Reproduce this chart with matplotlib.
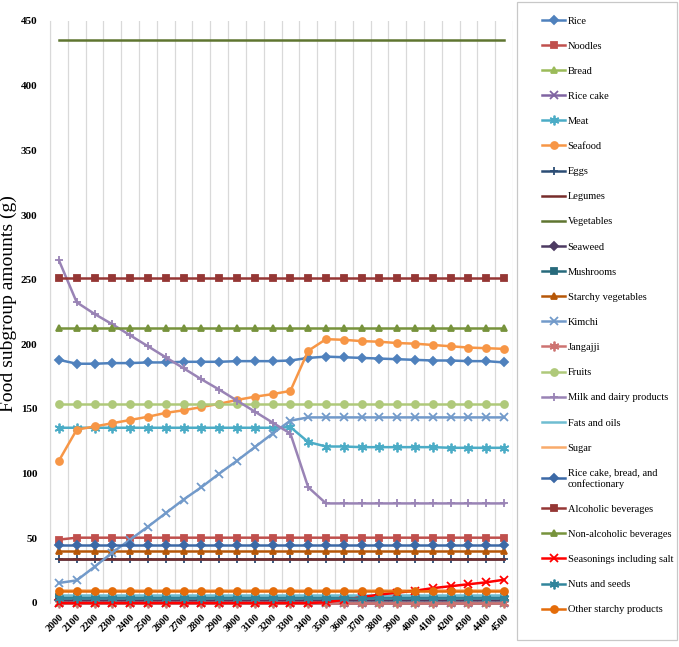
import matplotlib
matplotlib.use("Agg")
import matplotlib.pyplot as plt
from matplotlib.patches import Rectangle

plt.rcParams['font.family'] = ['Liberation Serif', 'DejaVu Serif']

# categories (x axis)
x_labels = ['2000', '2100', '2200', '2300', '2400', '2500', '2600', '2700', '2800',
            '2900', '3000', '3100', '3200', '3300', '3400', '3500', '3600', '3700',
            '3800', '3900', '4000', '4100', '4200', '4300', '4400', '4500']

rice = [188, 185, 185, 185.5, 185.5, 186, 186, 186.5, 186.5, 186.5, 187, 187, 187,
        187.5, 189.5, 190.5, 190, 189.5, 189, 188.5, 188, 187.5, 187.5, 187, 187, 186]
noodles = [49, 50.5, 50.5, 50.5, 50.5, 50.5, 50.5, 50.5, 50.5, 50.5, 50.5, 50.5, 50.5,
           50.5, 50.5, 50.5, 50.5, 50.5, 50.5, 50.5, 50.5, 50.5, 50.5, 50.5, 50.5, 50.5]
bread = [0, 0, 0, 0, 0, 0, 0, 0, 0, 0, 0, 0, 0, 0, 0, 0, 0, 0, 0, 0, 0, 0, 0, 0, 0, 0]
rice_cake = [0, 0, 0, 0, 0, 0, 0, 0, 0, 0, 0, 0, 0, 0, 0, 0, 0, 0, 0, 0, 0, 0, 0, 0, 0, 0]
meat = [135.5, 135.5, 135.5, 135.5, 135.5, 135.5, 135.5, 135.5, 135.5, 135.5, 135.5, 135.5,
        135.5, 136, 124.5, 121, 121, 120.5, 120.5, 120.5, 120.5, 120.5, 120, 120, 120, 120]
seafood = [110, 134, 136.5, 139, 141.5, 144, 147, 149, 151.5, 154, 157, 159.5, 161.5, 164,
           195, 204, 203.5, 202.5, 202, 201, 200.5, 199.5, 198.5, 197.5, 197, 196.5]
eggs = [34, 34, 34, 34, 34, 34, 34, 34, 34, 34, 34, 34, 34, 34, 34, 34, 34, 34, 34, 34, 34,
        34, 34, 34, 34, 34]
legumes = [34, 34, 34, 34, 34, 34, 34, 34, 34, 34, 34, 34, 34, 34, 34, 34, 34, 34, 34, 34, 34,
           34, 34, 34, 34, 34]
vegetables = [435, 435, 435, 435, 435, 435, 435, 435, 435, 435, 435, 435, 435, 435, 435, 435,
              435, 435, 435, 435, 435, 435, 435, 435, 435, 435]
seaweed = [2, 2, 2, 2, 2, 2, 2, 2, 2, 2, 2, 2, 2, 2, 2, 2, 2, 2, 2, 2, 2, 2, 2, 2, 2, 2]
mushrooms = [5, 5, 5, 5, 5, 5, 5, 5, 5, 5, 5, 5, 5, 5, 5, 5, 5, 5, 5, 5, 5, 5, 5, 5, 5, 5]
starchy_veg = [40, 40, 40, 40, 40, 40, 40, 40, 40, 40, 40, 40, 40, 40, 40, 40, 40, 40, 40, 40,
               40, 40, 40, 40, 40, 40]
kimchi = [15.5, 17.5, 28, 39, 49, 59, 69.5, 80, 89.5, 100, 110, 120.5, 131, 141, 143.5, 143.5,
          143.5, 143.5, 143.5, 143.5, 143.5, 143.5, 143.5, 143.5, 143.5, 143.5]
jangajji = [0, 0, 0, 0, 0, 0, 0, 0, 0, 0, 0, 0, 0, 0, 0, 0, 0, 0, 0, 0, 0, 0, 0, 0, 0, 0]
fruits = [154, 154, 154, 154, 154, 154, 154, 154, 154, 154, 154, 154, 154, 154, 154, 154, 154,
          154, 154, 154, 154, 154, 154, 154, 154, 154]
milk = [265, 232.5, 223.5, 215.5, 207, 198.5, 190, 181.5, 173, 165, 156.5, 148, 139.5, 131,
        89.5, 77, 77, 77, 77, 77, 77, 77, 77, 77, 77, 77]
fats_oils = [6, 6, 6, 6, 6, 6, 6, 6, 6, 6, 6, 6, 6, 6, 6, 6, 6, 6, 6, 6, 6, 6, 6, 6, 6, 6]
sugar = [10, 10, 10, 10, 10, 10, 10, 10, 10, 10, 10, 10, 10, 10, 10, 10, 10, 10, 10, 10, 10,
         10, 10, 10, 10, 10]
rcb_conf = [44.5, 44.5, 44.5, 44.5, 44.5, 44.5, 44.5, 44.5, 44.5, 44.5, 44.5, 44.5, 44.5,
            44.5, 44.5, 44.5, 44.5, 44.5, 44.5, 44.5, 44.5, 44.5, 44.5, 44.5, 44.5, 44.5]
alcoholic = [251, 251, 251, 251, 251, 251, 251, 251, 251, 251, 251, 251, 251, 251, 251, 251,
             251, 251, 251, 251, 251, 251, 251, 251, 251, 251]
non_alcoholic = [213, 213, 213, 213, 213, 213, 213, 213, 213, 213, 213, 213, 213, 213, 213,
                 213, 213, 213, 213, 213, 213, 213, 213, 213, 213, 213]
seasonings = [0, 0, 0, 0, 0, 0, 0, 0, 0, 0, 0, 0, 0, 0, 0, 0.5, 2.5, 4.5, 6.5, 8, 9.5, 11.5,
              13, 14.5, 16, 18]
nuts_seeds = [4, 4, 4, 4, 4, 4, 4, 4, 4, 4, 4, 4, 4, 4, 4, 4, 4, 4, 4, 4, 4, 4, 4, 4, 4, 4]
other_starchy = [9, 9, 9, 9, 9, 9, 9, 9, 9, 9, 9, 9, 9, 9, 9, 9, 9, 9, 9, 9, 9, 9, 9, 9, 9, 9]

ast = (6, 2, 0)  # excel "star" marker
series = [
    ('Rice', rice, '#4F81BD', 'D'),
    ('Noodles', noodles, '#C0504D', 's'),
    ('Bread', bread, '#9BBB59', '^'),
    ('Rice cake', rice_cake, '#8064A2', 'x'),
    ('Meat', meat, '#4BACC6', ast),
    ('Seafood', seafood, '#F79646', 'o'),
    ('Eggs', eggs, '#2C4D75', '+'),
    ('Legumes', legumes, '#772C2A', None),
    ('Vegetables', vegetables, '#5F7530', None),
    ('Seaweed', seaweed, '#4D3B62', 'D'),
    ('Mushrooms', mushrooms, '#276A7C', 's'),
    ('Starchy vegetables', starchy_veg, '#B65708', '^'),
    ('Kimchi', kimchi, '#729ACA', 'x'),
    ('Jangajji', jangajji, '#CD7371', ast),
    ('Fruits', fruits, '#AFC97A', 'o'),
    ('Milk and dairy products', milk, '#9983B5', '+'),
    ('Fats and oils', fats_oils, '#6FBDD1', None),
    ('Sugar', sugar, '#F9AB6B', None),
    ('Rice cake, bread, and\nconfectionary', rcb_conf, '#3C69A6', 'D'),
    ('Alcoholic beverages', alcoholic, '#953735', 's'),
    ('Non-alcoholic beverages', non_alcoholic, '#77933C', '^'),
    ('Seasonings including salt', seasonings, '#FF0000', 'x'),
    ('Nuts and seeds', nuts_seeds, '#31859C', ast),
    ('Other starchy products', other_starchy, '#E46C0A', 'o'),
]

W, H = 679, 647
fig = plt.figure(figsize=(W / 100, H / 100), dpi=100)
ax = fig.add_axes([50 / W, 1 - 603 / H, 463 / W, 582 / H])

xs = list(range(len(x_labels)))
for name, vals, col, mk in series:
    ms = 5
    if mk in ('x', '+'):
        ms = 6
    elif mk == ast:
        ms = 7
    elif mk == 'D':
        ms = 4.5
    ax.plot(xs, vals, color=col, lw=1.8, marker=mk, ms=ms, mew=1.3,
            mfc=col, mec=col, label=name, clip_on=False)

ax.set_xlim(-0.5, len(x_labels) - 0.5)
ax.set_ylim(0, 450)
ax.set_yticks(range(0, 451, 50))
ax.set_xticks(xs)
ax.set_xticklabels(x_labels, rotation=45, ha='right', rotation_mode='anchor',
                   fontsize=7.5, fontweight='bold')
ax.set_xticks([i - 0.5 for i in range(len(x_labels) + 1)], minor=True)
ax.grid(True, which='minor', axis='x', color='#D9D9D9', lw=0.9)
ax.tick_params(axis='both', which='both', length=0)
ax.tick_params(axis='x', pad=7)
ax.tick_params(axis='y', pad=9)
for t in ax.get_yticklabels():
    t.set_fontweight('bold')
    t.set_fontsize(8)
for s in ('top', 'right', 'bottom'):
    ax.spines[s].set_visible(False)
ax.spines['left'].set_color('#D9D9D9')
ax.set_axisbelow(True)
ax.set_ylabel('Food subgroup amounts (g)', fontsize=14)
ax.yaxis.set_label_coords(-0.072, 0.515)

# legend box
fig.patches.append(Rectangle((517 / W, 1 - 640 / H), 160 / W, 638 / H,
                             transform=fig.transFigure, fill=False,
                             edgecolor='#C8C8C8', lw=0.9))
fig.legend(loc='upper left', bbox_to_anchor=(537 / W, 1 - 11 / H), frameon=False,
           fontsize=7.5, labelspacing=1.52, handlelength=2.2, handletextpad=0.25,
           borderpad=0, numpoints=1)

fig.savefig('out.png', dpi=100)
